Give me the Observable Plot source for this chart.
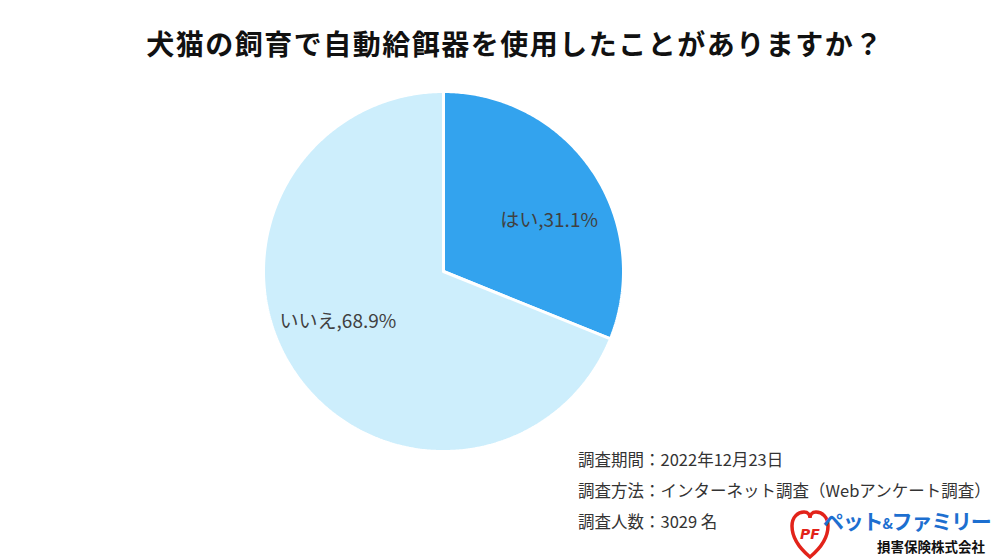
<!DOCTYPE html>
<html><head><meta charset="utf-8">
<script src="https://cdn.jsdelivr.net/npm/d3@7"></script>
<script src="https://cdn.jsdelivr.net/npm/@observablehq/plot@0.6"></script>
<style>
html,body{margin:0;padding:0;background:#fff;}
#wrap{position:relative;width:1000px;height:560px;overflow:hidden;font-family:"Noto Sans CJK JP","Noto Sans",sans-serif;}
#title{position:absolute;left:0;top:23px;width:1030px;text-align:center;font-size:28px;font-weight:bold;color:#111;letter-spacing:1.5px;}
#chart{position:absolute;left:0;top:0;}
.note{position:absolute;left:578px;font-size:16.5px;color:#333;white-space:nowrap;}
#logo{position:absolute;left:790px;top:505px;width:200px;height:55px;}
#logo .main{position:absolute;left:33px;top:0px;font-size:21px;font-weight:bold;color:#1d6fd0;letter-spacing:-1.2px;white-space:nowrap;}
#logo .sub{position:absolute;left:87px;top:31px;font-size:13.5px;font-weight:bold;color:#111;white-space:nowrap;}
</style></head>
<body><div id="wrap">
<div id="title"></div>
<div id="chart"></div>
<div class="note" id="n1" style="top:447px"></div>
<div class="note" id="n2" style="top:478px"></div>
<div class="note" id="n3" style="top:509px"></div>
<div id="logo">
<svg width="40" height="52" style="position:absolute;left:0;top:4px" viewBox="0 0 40 52">
<path d="M20 48 C8 38 2 28 2 17 C2 8 8 3 14 3 C18 3 20 6 20 9 C20 6 22 3 26 3 C32 3 38 8 38 17 C38 28 32 38 20 48 Z" fill="none" stroke="#e2231a" stroke-width="3.5"/>
<text x="20" y="30" text-anchor="middle" font-size="14" font-weight="bold" fill="#e2231a" font-style="italic" font-family="DejaVu Sans">PF</text>
</svg>
<div class="main">ペット<span style="font-size:14px">&amp;</span>ファミリー</div>
<div class="sub">損害保険株式会社</div>
</div>
</div>
<script>
const titleText = "犬猫の飼育で自動給餌器を使用したことがありますか？";
const categories = ["はい", "いいえ"];
const values = [31.1, 68.9];
const colors = ["#33a3ee", "#cdeefc"];
const notes = ["調査期間：2022年12月23日", "調査方法：インターネット調査（Webアンケート調査）", "調査人数：3029 名"];

document.getElementById("title").textContent = titleText;
document.getElementById("n1").textContent = notes[0];
document.getElementById("n2").textContent = notes[1];
document.getElementById("n3").textContent = notes[2];

const total = d3.sum(values);
const pts = [];
const labels = [];
let acc = 0;
categories.forEach((c, i) => {
  const a0 = acc / total * 2 * Math.PI;
  acc += values[i];
  const a1 = acc / total * 2 * Math.PI;
  pts.push({k: c, x: 0, y: 0});
  const n = Math.max(2, Math.ceil((a1 - a0) / 0.01));
  for (let j = 0; j <= n; j++) {
    const a = a0 + (a1 - a0) * j / n;
    pts.push({k: c, x: Math.sin(a), y: Math.cos(a)});
  }
  pts.push({k: c, x: 0, y: 0});
  const am = (a0 + a1) / 2 + 8.5 * Math.PI / 180;
  labels.push({k: c, x: 0.65 * Math.sin(am), y: 0.65 * Math.cos(am), t: `${c},${values[i]}%`});
});

const plot = Plot.plot({
  width: 1000, height: 560,
  margin: 0,
  x: {domain: [-1, 1], range: [263, 623], axis: null},
  y: {domain: [-1, 1], range: [451, 91], axis: null},
  color: {domain: categories, range: colors},
  style: {background: "transparent", fontFamily: "'Noto Sans CJK JP', sans-serif"},
  marks: [
    Plot.line(pts, {x: "x", y: "y", z: "k", fill: "k", stroke: "white", strokeWidth: 3, strokeLinejoin: "miter", curve: "linear"}),
    Plot.text(labels, {x: "x", y: "y", text: "t", fill: "#404040", fontSize: 19})
  ]
});
document.getElementById("chart").appendChild(plot);
</script>
</body></html>
